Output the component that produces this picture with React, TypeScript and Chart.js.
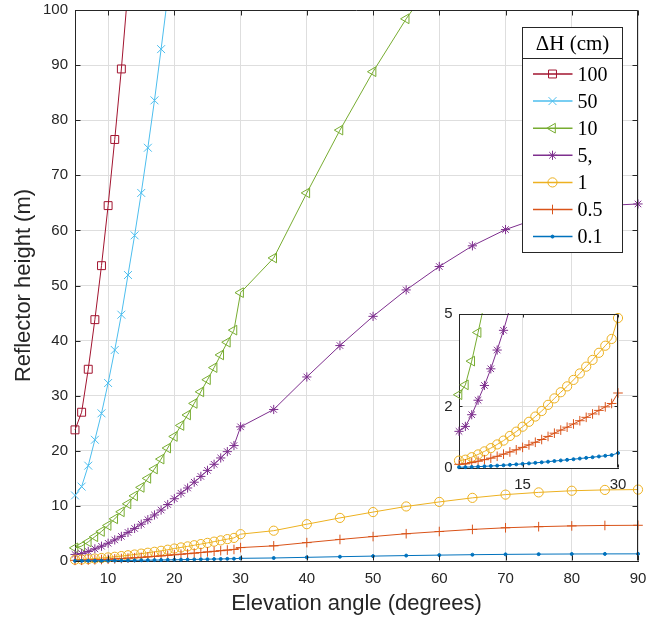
import React, { useEffect, useRef } from 'react';
import { Chart, registerables } from 'chart.js';
import { drawPoint } from 'chart.js/helpers';

Chart.register(...registerables);

// ---------------- data ----------------
const elevation = [5, 6, 7, 8, 9, 10, 11, 12, 13, 14, 15, 16, 17, 18, 19, 20, 21, 22, 23, 24, 25, 26, 27, 28, 29, 30, 35, 40, 45, 50, 55, 60, 65, 70, 75, 80, 85, 90];

const h100 = [23.8, 27.0, 34.8, 43.8, 53.6, 64.5, 76.5, 89.3, 103.8];
const h50 = [11.9, 13.5, 17.3, 22.0, 26.8, 32.3, 38.3, 44.7, 51.9, 59.1, 66.8, 75.0, 83.6, 92.9, 102.5];
const h10 = [2.38, 2.70, 3.47, 4.40, 5.36, 6.45, 7.65, 8.93, 10.38, 11.82, 13.36, 15.0, 16.7, 18.5, 20.5, 22.6, 24.6, 26.5, 28.6, 30.7, 32.9, 35.1, 37.4, 39.7, 41.9, 48.7, 55.0, 66.8, 78.2, 88.8, 98.4, 106.9];
const h5 = [1.19, 1.35, 1.73, 2.20, 2.68, 3.22, 3.83, 4.47, 5.19, 5.91, 6.68, 7.50, 8.35, 9.25, 10.25, 11.3, 12.3, 13.25, 14.3, 15.35, 16.45, 17.55, 18.7, 19.85, 20.95, 24.35, 27.5, 33.4, 39.1, 44.4, 49.2, 53.45, 57.2, 60.15, 62.25, 63.65, 64.5, 64.8];
const h1 = [0.24, 0.27, 0.35, 0.44, 0.54, 0.645, 0.765, 0.89, 1.04, 1.18, 1.34, 1.50, 1.67, 1.85, 2.05, 2.26, 2.46, 2.65, 2.86, 3.07, 3.29, 3.51, 3.74, 3.97, 4.19, 4.87, 5.5, 6.68, 7.82, 8.88, 9.9, 10.72, 11.46, 12.05, 12.45, 12.75, 12.9, 12.96];
const h05 = [0.12, 0.135, 0.175, 0.22, 0.27, 0.32, 0.38, 0.45, 0.52, 0.59, 0.67, 0.75, 0.835, 0.925, 1.025, 1.13, 1.23, 1.325, 1.43, 1.535, 1.645, 1.755, 1.87, 1.985, 2.095, 2.435, 2.75, 3.34, 3.91, 4.44, 4.95, 5.35, 5.73, 6.03, 6.23, 6.37, 6.45, 6.48];
const h01 = [0.024, 0.027, 0.035, 0.044, 0.054, 0.065, 0.077, 0.089, 0.104, 0.118, 0.134, 0.15, 0.167, 0.185, 0.205, 0.226, 0.246, 0.265, 0.286, 0.307, 0.329, 0.351, 0.374, 0.397, 0.419, 0.487, 0.55, 0.668, 0.782, 0.888, 0.984, 1.069, 1.144, 1.203, 1.245, 1.273, 1.29, 1.296];

const seriesLabels = ['100', '50', '10', '5,', '1', '0.5', '0.1'];
const seriesValues = [h100, h50, h10, h5, h1, h05, h01];

const legendTitle = 'ΔH (cm)';
const xTitle = 'Elevation angle (degrees)';
const yTitle = 'Reflector height (m)';

const mainXTicks = [10, 20, 30, 40, 50, 60, 70, 80, 90];
const mainYTicks = [0, 10, 20, 30, 40, 50, 60, 70, 80, 90, 100];
const insetXTicks = [15, 30];
const insetYTicks = [0, 2, 5];

// ---------------- styles ----------------
const seriesStyles = [
  { color: '#A2142F', style: 'rect', radius: 5.6, rotation: 0, fill: false },
  { color: '#4DBEEE', style: 'crossRot', radius: 5.6, rotation: 0, fill: false },
  { color: '#77AC30', style: 'triangle', radius: 5.6, rotation: -90, fill: false },
  { color: '#7E2F8E', style: 'star', radius: 4.6, rotation: 0, fill: false },
  { color: '#EDB120', style: 'circle', radius: 4.6, rotation: 0, fill: false },
  { color: '#D95319', style: 'cross', radius: 4.8, rotation: 0, fill: false },
  { color: '#0072BD', style: 'circle', radius: 1.5, rotation: 0, fill: true },
];

const FONT = "'Liberation Sans', Arial, Helvetica, sans-serif";
const SERIF = "'Liberation Serif', 'Times New Roman', serif";
const AX = '#262626';
const GRID = '#dedede';

function makeDatasets(clip: any) {
  return seriesValues.map((vals, i) => {
    const s = seriesStyles[i];
    const bg = s.fill ? s.color : 'rgba(0,0,0,0)';
    return {
      label: seriesLabels[i],
      data: vals.map((v, j) => ({ x: elevation[j], y: v })),
      borderColor: s.color,
      backgroundColor: bg,
      borderWidth: 1,
      pointStyle: s.style,
      pointRadius: s.radius,
      pointHoverRadius: s.radius,
      pointRotation: s.rotation,
      pointBorderWidth: 1,
      pointBorderColor: s.color,
      pointBackgroundColor: bg,
      tension: 0,
      fill: false,
      clip,
      order: seriesValues.length - i,
    };
  });
}

const framePlugin = {
  id: 'frame',
  afterDatasetsDraw(chart: any, _args: any, opts: any) {
    const { ctx, chartArea } = chart;
    const L = Math.round(chartArea.left) + 0.5;
    const R = Math.round(chartArea.right) - 0.5;
    const T = Math.round(chartArea.top) + 0.5;
    const B = Math.round(chartArea.bottom) - 0.5;
    const len = opts.tickLen || 5;
    ctx.save();
    ctx.strokeStyle = AX;
    ctx.lineWidth = 1;
    ctx.beginPath();
    ctx.moveTo(L, T);
    ctx.lineTo(R, T);
    ctx.lineTo(R, B);
    ctx.stroke();
    ctx.beginPath();
    const xs = chart.scales.x;
    const ys = chart.scales.y;
    for (const t of xs.ticks) {
      const px = Math.round(xs.getPixelForValue(t.value)) + 0.5;
      ctx.moveTo(px, B);
      ctx.lineTo(px, B - len);
      ctx.moveTo(px, T);
      ctx.lineTo(px, T + len);
    }
    for (const t of ys.ticks) {
      const py = Math.round(ys.getPixelForValue(t.value)) + 0.5;
      ctx.moveTo(L, py);
      ctx.lineTo(L + len, py);
      ctx.moveTo(R, py);
      ctx.lineTo(R - len, py);
    }
    ctx.stroke();
    ctx.restore();
  },
};

const legendPlugin = {
  id: 'mlegend',
  afterDatasetsDraw(chart: any) {
    const { ctx, chartArea } = chart;
    const x0 = Math.round(chartArea.right - 116) + 0.5;
    const x1 = Math.round(chartArea.right - 16.5) + 0.5;
    const y0 = Math.round(chartArea.top + 17) + 0.5;
    const y1 = Math.round(chartArea.top + 241.5) + 0.5;
    const sep = Math.round(chartArea.top + 48) + 0.5;
    ctx.save();
    ctx.fillStyle = '#ffffff';
    ctx.fillRect(x0, y0, x1 - x0, y1 - y0);
    ctx.strokeStyle = AX;
    ctx.lineWidth = 1;
    ctx.strokeRect(x0, y0, x1 - x0, y1 - y0);
    ctx.beginPath();
    ctx.moveTo(x0, sep);
    ctx.lineTo(x1, sep);
    ctx.stroke();
    ctx.fillStyle = '#000';
    ctx.font = `21px ${SERIF}`;
    ctx.textAlign = 'center';
    ctx.textBaseline = 'alphabetic';
    ctx.fillText(legendTitle, (x0 + x1) / 2, chartArea.top + 39.5);
    ctx.font = `20px ${SERIF}`;
    ctx.textAlign = 'left';
    seriesLabels.forEach((lab, i) => {
      const s = seriesStyles[i];
      const ry = chartArea.top + 64 + i * 27.1;
      ctx.strokeStyle = s.color;
      ctx.lineWidth = 1.5;
      ctx.beginPath();
      ctx.moveTo(x0 + 10.5, ry);
      ctx.lineTo(x0 + 50, ry);
      ctx.stroke();
      ctx.lineWidth = 1;
      ctx.fillStyle = s.fill ? s.color : 'rgba(0,0,0,0)';
      drawPoint(ctx, { pointStyle: s.style, rotation: s.rotation, radius: s.radius, borderWidth: 1 } as any, x0 + 30, ry);
      ctx.fillStyle = '#000';
      ctx.fillText(lab, x0 + 55, ry + 6.7);
    });
    ctx.restore();
  },
};

const whiteAreaPlugin = {
  id: 'whiteArea',
  beforeDraw(chart: any) {
    const { ctx, chartArea } = chart;
    ctx.save();
    ctx.fillStyle = '#ffffff';
    ctx.fillRect(chartArea.left, chartArea.top, chartArea.right - chartArea.left, chartArea.bottom - chartArea.top);
    ctx.restore();
  },
};

function axisCommon() {
  return {
    grid: { color: GRID, drawTicks: false, lineWidth: 1 },
    border: { color: AX, width: 1 },
  };
}

function fixX(h: number) {
  return (s: any) => {
    s.height = h;
    s.paddingLeft = 0;
    s.paddingRight = 0;
    s.paddingTop = 0;
    s.paddingBottom = 0;
  };
}
function fixY(w: number) {
  return (s: any) => {
    s.width = w;
    s.paddingLeft = 0;
    s.paddingRight = 0;
    s.paddingTop = 0;
    s.paddingBottom = 0;
  };
}

export default function App() {
  const mainRef = useRef<HTMLCanvasElement>(null);
  const insetRef = useRef<HTMLCanvasElement>(null);

  useEffect(() => {
    const main = new Chart(mainRef.current as HTMLCanvasElement, {
      type: 'line',
      data: { datasets: makeDatasets({ left: 10, top: 0, right: 10, bottom: 10 }) as any },
      options: {
        responsive: false,
        animation: false,
        events: [],
        layout: { padding: { left: 0, top: 10, right: 11, bottom: 0 } },
        scales: {
          x: {
            type: 'linear',
            min: 5,
            max: 90,
            afterBuildTicks: (s: any) => { s.ticks = mainXTicks.map((v) => ({ value: v })); },
            afterFit: fixX(62),
            ...axisCommon(),
            ticks: { color: AX, font: { size: 15, family: FONT }, padding: 9, maxRotation: 0 },
            title: { display: true, text: xTitle, color: AX, font: { size: 22, family: FONT }, padding: { top: 0, bottom: 6 } },
          },
          y: {
            type: 'linear',
            min: 0,
            max: 100,
            afterBuildTicks: (s: any) => { s.ticks = mainYTicks.map((v) => ({ value: v })); },
            afterFit: fixY(75),
            ...axisCommon(),
            ticks: { color: AX, font: { size: 15, family: FONT }, padding: 7 },
            title: { display: true, text: yTitle, color: AX, font: { size: 22, family: FONT }, padding: { top: 11, bottom: 0 } },
          },
        } as any,
        plugins: { legend: { display: false }, tooltip: { enabled: false }, frame: { tickLen: 5 } } as any,
      },
      plugins: [framePlugin, legendPlugin],
    });

    const inset = new Chart(insetRef.current as HTMLCanvasElement, {
      type: 'line',
      data: { datasets: makeDatasets({ left: 6, top: 1, right: 6, bottom: 6 }) as any },
      options: {
        responsive: false,
        animation: false,
        events: [],
        layout: { padding: { left: 0, top: 14, right: 12, bottom: 0 } },
        scales: {
          x: {
            type: 'linear',
            min: 5,
            max: 30,
            afterBuildTicks: (s: any) => { s.ticks = insetXTicks.map((v) => ({ value: v })); },
            afterFit: fixX(32),
            ...axisCommon(),
            ticks: { color: AX, font: { size: 15, family: FONT }, padding: 7.5, maxRotation: 0 },
          },
          y: {
            type: 'linear',
            min: 0,
            max: 5,
            afterBuildTicks: (s: any) => { s.ticks = insetYTicks.map((v) => ({ value: v })); },
            afterFit: fixY(39),
            ...axisCommon(),
            ticks: { color: AX, font: { size: 15, family: FONT }, padding: 6.5 },
          },
        } as any,
        plugins: { legend: { display: false }, tooltip: { enabled: false }, frame: { tickLen: 3 } } as any,
      },
      plugins: [whiteAreaPlugin, framePlugin],
    });

    return () => {
      main.destroy();
      inset.destroy();
    };
  }, []);

  return (
    <div style={{ position: 'fixed', left: 0, top: 0, width: 649, height: 623, background: '#ffffff', overflow: 'hidden' }}>
      <canvas ref={mainRef} width={649} height={623} style={{ position: 'absolute', left: 0, top: 0 }} />
      <canvas ref={insetRef} width={210} height={200} style={{ position: 'absolute', left: 420, top: 300 }} />
    </div>
  );
}
